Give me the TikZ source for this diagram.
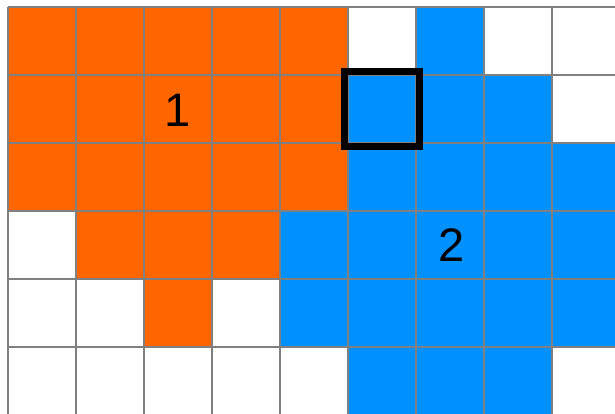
\documentclass[tikz,border=0pt]{standalone}
\usepackage{fontspec}
\setmainfont{Liberation Sans}
\definecolor{orng}{HTML}{FF6600}
\definecolor{blu}{HTML}{0091FF}
\definecolor{gridgrey}{HTML}{808080}
\begin{document}
\begin{tikzpicture}[x=1pt,y=-1pt,
  cellO/.style={fill=orng},
  cellB/.style={fill=blu},
  gridline/.style={draw=gridgrey,line width=2pt},
  selbox/.style={draw=black,line width=7pt},
  lbl/.style={font=\fontsize{47}{47}\selectfont,text=black,inner sep=0pt}]
\useasboundingbox (0,0) rectangle (615,413);
\begin{scope}
\clip (0,0) rectangle (615,413);
\fill[white] (0,0) rectangle (615,413);
\foreach \c/\r in {0/0,1/0,2/0,3/0,4/0,0/1,1/1,2/1,3/1,4/1,0/2,1/2,2/2,3/2,4/2,1/3,2/3,3/3,2/4}
  \path[cellO] (8+68*\c,7+68*\r) rectangle ++(68,68);
\foreach \c/\r in {6/0,5/1,6/1,7/1,5/2,6/2,7/2,8/2,4/3,5/3,6/3,7/3,8/3,4/4,5/4,6/4,7/4,8/4,5/5,6/5,7/5}
  \path[cellB] (8+68*\c,7+68*\r) rectangle ++(68,68);
\foreach \k in {0,...,8}
  \draw[gridline] (8+68*\k,7) -- (8+68*\k,420);
\foreach \k in {0,...,5}
  \draw[gridline] (8,7+68*\k) -- (620,7+68*\k);
\end{scope}
\draw[selbox] (344.5,71.5) rectangle (419.5,146);
\node[lbl] (one) at (178,110) {1};
\node[lbl] (two) at (452,245) {2};
\end{tikzpicture}
\end{document}
